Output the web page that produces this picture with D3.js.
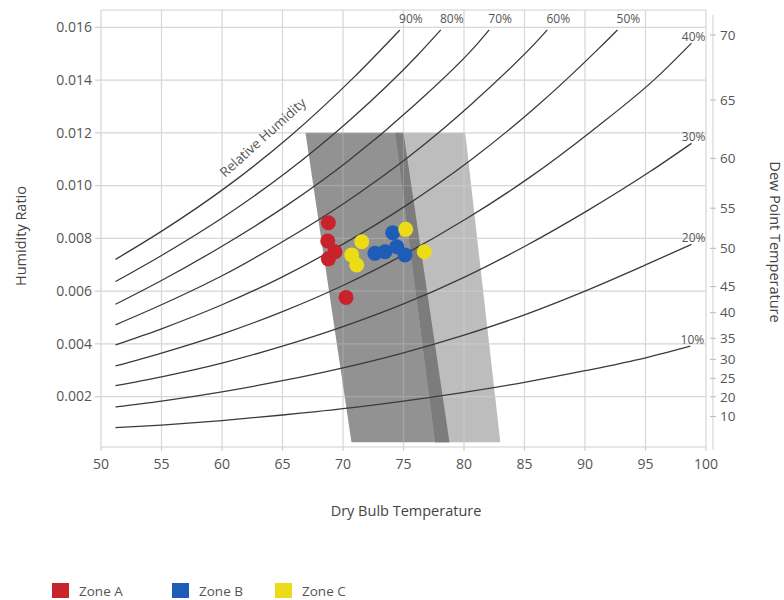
<!DOCTYPE html>
<html><head><meta charset="utf-8">
<script src="https://cdn.jsdelivr.net/npm/d3@7/dist/d3.min.js"></script>
<style>body{margin:0;background:#fff} text{font-family:"Open Sans",sans-serif}</style>
</head><body><svg id="c" width="784" height="600"></svg>
<script>
// ---- data ----
const xTicks = [50,55,60,65,70,75,80,85,90,95,100];
const yTicks = [0.002,0.004,0.006,0.008,0.010,0.012,0.014,0.016];
const yTickLabels = ["0.002","0.004","0.006","0.008","0.010","0.012","0.014","0.016"];
const dewPointLabels = ["70","65","60","55","50","45","40","35","30","25","20","10"];
const dewPointRatios = [0.01571,0.01324,0.01103,0.00914,0.00762,0.00617,0.00518,0.00421,0.00341,0.00269,0.00199,0.00124];

const rhNames = ["90%","80%","70%","60%","50%","40%","30%","20%","10%"];
const rh90 = [[51.2,0.00720],[55.05,0.00828],[60.31,0.00993],[65.63,0.01187],[71.0,0.01415],[74.7,0.01590]];
const rh80 = [[51.2,0.00636],[55,0.00735],[60.13,0.00881],[65.41,0.01053],[70.74,0.01255],[76.12,0.01492],[78.08,0.01590]];
const rh70 = [[51.2,0.00550],[55,0.00640],[60,0.00770],[65.2,0.00920],[70.48,0.01095],[75.82,0.01302],[81.21,0.01543],[82.08,0.01590]];
const rh60 = [[51.2,0.00472],[55,0.00548],[60,0.00658],[65,0.00787],[70.22,0.00937],[75.51,0.01112],[80.84,0.01318],[86.23,0.01557],[86.88,0.01590]];
const rh50 = [[51.2,0.00396],[55,0.00457],[60,0.00548],[65,0.00654],[70,0.00778],[75.2,0.00924],[80.48,0.01094],[85.8,0.01292],[91.17,0.01521],[92.68,0.01590]];
const rh40 = [[51.2,0.00316],[55,0.00365],[60,0.00437],[65,0.00522],[70,0.00621],[75,0.00737],[80.12,0.00872],[85.37,0.01029],[90.67,0.01211],[96.0,0.01413],[98.8,0.01540]];
const rh30 = [[51.2,0.00241],[55,0.00275],[60,0.00327],[65,0.00391],[70,0.00465],[75,0.00551],[80,0.00652],[85,0.00769],[90.17,0.00904],[95.41,0.01054],[98.8,0.01160]];
const rh20 = [[51.2,0.00161],[55,0.00183],[60,0.00218],[65,0.00260],[70,0.00309],[75,0.00366],[80,0.00433],[85,0.00510],[90,0.00600],[95,0.00699],[98.8,0.00777]];
const rh10 = [[51.2,0.00082],[55,0.00092],[60,0.00109],[65,0.00130],[70,0.00154],[75,0.00183],[80,0.00216],[85,0.00254],[90,0.00298],[95,0.00347],[98.7,0.00391]];
const rhCurves = [rh90,rh80,rh70,rh60,rh50,rh40,rh30,rh20,rh10];

const zoneWinterT = [66.9, 75.0, 78.8, 70.7];
const zoneWinterW = [0.012, 0.012, 0.00027, 0.00027];
const zoneSummerT = [74.3, 80.1, 83.0, 77.6];
const zoneSummerW = [0.012, 0.012, 0.00027, 0.00027];

const zoneNames = ["Zone A","Zone B","Zone C"];
const zoneColors = ["#c8232b","#1f5cb8","#ecdc18"];
const zoneA_T = [68.79,68.74,69.34,68.79,70.25];
const zoneA_W = [0.00859,0.00790,0.00749,0.00722,0.00576];
const zoneB_T = [72.64,73.47,74.11,74.44,75.12];
const zoneB_W = [0.00743,0.00749,0.00821,0.00768,0.00737];
const zoneC_T = [71.55,70.72,71.13,75.18,76.72];
const zoneC_W = [0.00787,0.00737,0.00699,0.00834,0.00749];

// ---- layout ----
const svg = d3.select("#c");
const x = d3.scaleLinear().domain([50,100]).range([101,706]);
const y = d3.scaleLinear().domain([0,0.016]).range([449.3,27.3]);
const pTop = 10, pBottom = 447, pLeft = 101, pRight = 706;
const gridColor = "#d0d0d0";

const g = svg.append("g");
// gridlines
g.selectAll(".vg").data(xTicks).join("line")
  .attr("x1",d=>x(d)).attr("x2",d=>x(d)).attr("y1",pTop).attr("y2",pBottom)
  .attr("stroke",gridColor).attr("stroke-width",1.2);
g.selectAll(".hg").data(yTicks).join("line")
  .attr("x1",95).attr("x2",pRight).attr("y1",d=>y(d)).attr("y2",d=>y(d))
  .attr("stroke",gridColor).attr("stroke-width",1.2);
g.append("line").attr("x1",pLeft).attr("x2",pRight).attr("y1",pTop).attr("y2",pTop).attr("stroke",gridColor).attr("stroke-width",1.2);
g.append("line").attr("x1",pLeft).attr("x2",pRight).attr("y1",pBottom).attr("y2",pBottom).attr("stroke",gridColor).attr("stroke-width",1.2);
g.selectAll(".xt").data(xTicks).join("line")
  .attr("x1",d=>x(d)).attr("x2",d=>x(d)).attr("y1",pBottom).attr("y2",pBottom+4)
  .attr("stroke",gridColor).attr("stroke-width",1.2);

// comfort zones
const poly = (ts,ws)=> ts.map((t,i)=>[x(t),y(ws[i])].join(",")).join(" ");
g.append("polygon").attr("points",poly(zoneWinterT,zoneWinterW)).attr("fill","#929292");
g.append("polygon").attr("points",poly(zoneSummerT,zoneSummerW)).attr("fill","#bdbdbd");
g.append("polygon").attr("points",poly(
   [zoneSummerT[0],zoneWinterT[1],zoneWinterT[2],zoneSummerT[3]],
   [zoneSummerW[0],zoneWinterW[1],zoneWinterW[2],zoneSummerW[3]])).attr("fill","#7c7c7c");
// faint gridlines over zones
const ov = g.append("g").attr("opacity",0.18);
ov.selectAll("line.v").data(xTicks).join("line").attr("class","v")
  .attr("x1",d=>x(d)).attr("x2",d=>x(d)).attr("y1",pTop).attr("y2",pBottom).attr("stroke","#fff").attr("stroke-width",1.2);
ov.selectAll("line.h").data(yTicks).join("line").attr("class","h")
  .attr("x1",pLeft).attr("x2",pRight).attr("y1",d=>y(d)).attr("y2",d=>y(d)).attr("stroke","#fff").attr("stroke-width",1.2);

// right dew point axis
const rx = 713;
g.append("line").attr("x1",rx).attr("x2",rx).attr("y1",15).attr("y2",450).attr("stroke","#cfcfcf").attr("stroke-width",1);
g.selectAll(".dpt").data(dewPointRatios).join("line")
  .attr("x1",rx-3).attr("x2",rx+3).attr("y1",d=>y(d)).attr("y2",d=>y(d)).attr("stroke","#bbb");
g.selectAll(".dpl").data(dewPointRatios).join("text")
  .attr("x",rx+7).attr("y",d=>y(d)).attr("dy","0.35em")
  .attr("font-size",13.5).attr("fill","#555").text((d,i)=>dewPointLabels[i]);

// RH curves
const line = d3.line().x(d=>x(d[0])).y(d=>y(d[1])).curve(d3.curveMonotoneX);
g.selectAll(".rh").data(rhCurves).join("path")
  .attr("d",line).attr("fill","none").attr("stroke","#3a3a3a").attr("stroke-width",1.3);

// RH labels
rhCurves.forEach((c,i)=>{
  const e = c[c.length-1];
  const ex = x(e[0]), ey = y(e[1]);
  if (i < 5) {
    g.append("text").attr("x",ex+11).attr("y",23).attr("text-anchor","middle")
     .attr("font-size",12).attr("fill","#555").text(rhNames[i]);
  } else {
    g.append("text").attr("x",ex+14).attr("y",ey-2).attr("text-anchor","end")
     .attr("font-size",12).attr("fill","#555").text(rhNames[i]);
  }
});
g.append("text").attr("transform","translate(266,141) rotate(-42)")
  .attr("text-anchor","middle").attr("font-size",13.5).attr("fill","#555").text("Relative Humidity");

// points
const zonesData = [[zoneA_T,zoneA_W],[zoneB_T,zoneB_W],[zoneC_T,zoneC_W]];
zonesData.forEach((z,k)=>{
  g.selectAll(".p"+k).data(z[0]).join("circle")
   .attr("cx",d=>x(d)).attr("cy",(d,i)=>y(z[1][i])).attr("r",7.5).attr("fill",zoneColors[k]);
});

// axis labels
g.selectAll(".xl").data(xTicks).join("text")
  .attr("x",d=>x(d)).attr("y",469).attr("text-anchor","middle")
  .attr("font-size",14).attr("fill","#555").text(d=>d);
g.selectAll(".yl").data(yTicks).join("text")
  .attr("x",92).attr("y",d=>y(d)).attr("dy","0.35em").attr("text-anchor","end")
  .attr("font-size",14).attr("fill","#555").text((d,i)=>yTickLabels[i]);
g.append("text").attr("x",406).attr("y",516).attr("text-anchor","middle")
  .attr("font-size",14.5).attr("fill","#444").text("Dry Bulb Temperature");
g.append("text").attr("transform","translate(26,236) rotate(-90)").attr("text-anchor","middle")
  .attr("font-size",14.5).attr("fill","#444").text("Humidity Ratio");
g.append("text").attr("transform","translate(770,242) rotate(90)").attr("text-anchor","middle")
  .attr("font-size",14.5).attr("fill","#444").text("Dew Point Temperature");

// legend
const legX = [52,172,275];
zoneNames.forEach((n,i)=>{
  g.append("rect").attr("x",legX[i]).attr("y",583).attr("width",17).attr("height",15).attr("fill",zoneColors[i]);
  g.append("text").attr("x",legX[i]+27).attr("y",595.5).attr("font-size",13.5).attr("fill","#555").text(n);
});
</script></body></html>
